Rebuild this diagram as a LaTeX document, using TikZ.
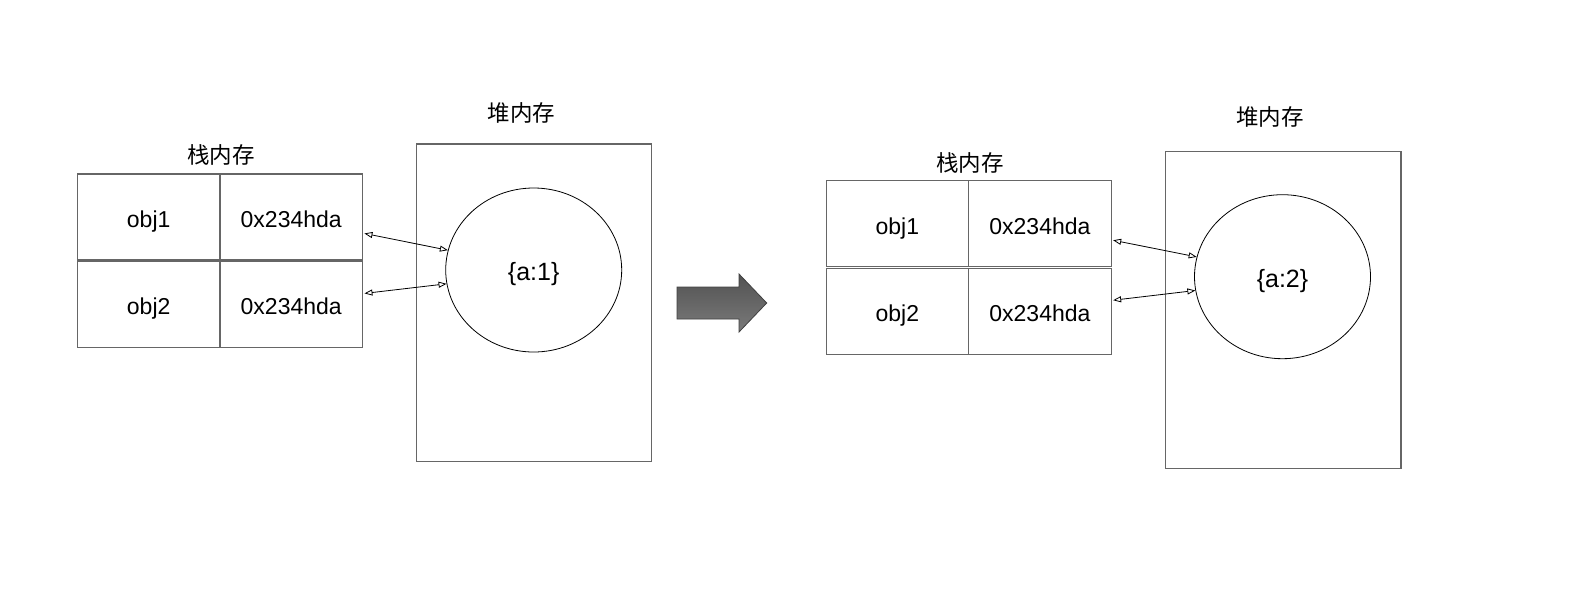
\documentclass[tikz,border=0pt]{standalone}
\usepackage{fontspec}
\setmainfont{Liberation Sans}
\newfontfamily\cjk{Noto Sans CJK SC}
\usetikzlibrary{positioning,arrows.meta,shapes.geometric}

\tikzset{
  cell/.style={draw=black!60, line width=1.2pt, inner sep=0pt, outer sep=0pt,
    text height=20.5pt, text depth=0pt,
    minimum width=142.5pt, minimum height=86pt, font=\fontsize{23}{27}\selectfont},
  heapbox/.style={draw=black!60, line width=1.2pt, outer sep=0pt},
  obj/.style={ellipse, draw, line width=0.8pt, inner sep=0pt, text height=21pt, text depth=0pt,
    minimum width=176pt, minimum height=164pt, font=\fontsize{25}{30}\selectfont},
  title/.style={font=\cjk\fontsize{22.5}{27}\selectfont},
  ref/.style={{Triangle[open,length=8pt,width=6pt]}-{Triangle[open,length=8pt,width=6pt]}, line width=0.8pt},
}

\begin{document}
\begin{tikzpicture}[x=1pt, y=-1pt]
\useasboundingbox (0,0) rectangle (1588,606);

% before: a = 1
\node [cell] (lo1) at (148.7, 217) {obj1};
\node [cell, right=0pt of lo1] (la1) {0x234hda};
\node [cell, below=1.7pt of lo1] (lo2) {obj2};
\node [cell, right=0pt of lo2] (la2) {0x234hda};
\node [title] (lstack) at (221, 155) {栈内存};

\node [heapbox, minimum width=235pt, minimum height=317.7pt] (lheap) at (534.2, 302.85) {};
\node [title] (lhtitle) at (521.5, 113) {堆内存};
\node [obj] (lobj) at (533.7, 270) {\{a:1\}};

\draw [ref] ([xshift=2pt]la1.-13) -- (lobj.167.6);
\draw [ref] ([xshift=2pt]la2.9.4) -- (lobj.-171.4);

% big arrow
\shade [top color=black!68, bottom color=black!52, draw=black!75, line width=0.8pt]
  (677,287) -- (739,287) -- (739,274) -- (766.7,303) -- (739,332) -- (739,319) -- (677,319) -- cycle;

% after: a = 2
\node [cell] (ro1) at (897.4, 223.8) {obj1};
\node [cell, right=0pt of ro1] (ra1) {0x234hda};
\node [cell, below=1.7pt of ro1] (ro2) {obj2};
\node [cell, right=0pt of ro2] (ra2) {0x234hda};
\node [title] (rstack) at (970, 163) {栈内存};

\node [heapbox, minimum width=235.3pt, minimum height=316.6pt] (rheap) at (1283.35, 310) {};
\node [title] (rhtitle) at (1270, 117) {堆内存};
\node [obj] (robj) at (1282.5, 276.7) {\{a:2\}};

\draw [ref] ([xshift=2pt]ra1.-13) -- (robj.167.6);
\draw [ref] ([xshift=2pt]ra2.9.4) -- (robj.-171.4);

\end{tikzpicture}
\end{document}
